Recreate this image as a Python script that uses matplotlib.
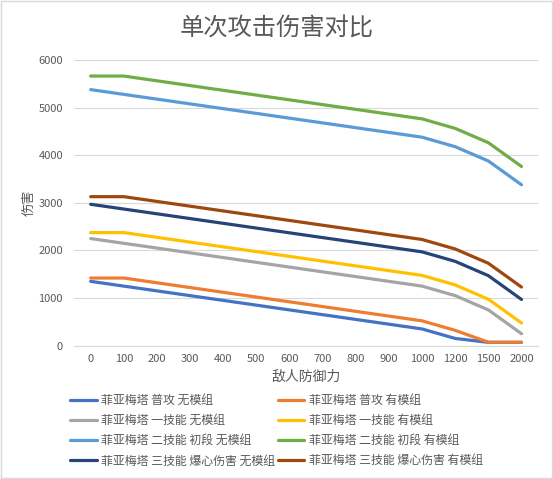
import matplotlib
matplotlib.use("Agg")
import matplotlib.pyplot as plt
from matplotlib.patches import Rectangle

plt.rcParams['font.family'] = ['Noto Sans CJK SC', 'DejaVu Sans']

defense = ['0', '100', '200', '300', '400', '500', '600', '700', '800', '900',
           '1000', '1200', '1500', '2000']

atk_nomod = [1350, 1250, 1150, 1050, 950, 850, 750, 650, 550, 450, 350, 150, 68, 68]
atk_mod = [1420, 1420, 1320, 1220, 1120, 1020, 920, 820, 720, 620, 520, 320, 71, 71]
s1_nomod = [2250, 2150, 2050, 1950, 1850, 1750, 1650, 1550, 1450, 1350, 1250, 1050, 750, 250]
s1_mod = [2375, 2375, 2275, 2175, 2075, 1975, 1875, 1775, 1675, 1575, 1475, 1275, 975, 475]
s2_nomod = [5380, 5280, 5180, 5080, 4980, 4880, 4780, 4680, 4580, 4480, 4380, 4180, 3880, 3380]
s2_mod = [5665, 5665, 5565, 5465, 5365, 5265, 5165, 5065, 4965, 4865, 4765, 4565, 4265, 3765]
s3_nomod = [2970, 2870, 2770, 2670, 2570, 2470, 2370, 2270, 2170, 2070, 1970, 1770, 1470, 970]
s3_mod = [3130, 3130, 3030, 2930, 2830, 2730, 2630, 2530, 2430, 2330, 2230, 2030, 1730, 1230]

series = [
    ('菲亚梅塔 普攻 无模组', atk_nomod, '#4472C4'),
    ('菲亚梅塔 普攻 有模组', atk_mod, '#ED7D31'),
    ('菲亚梅塔 一技能 无模组', s1_nomod, '#A5A5A5'),
    ('菲亚梅塔 一技能 有模组', s1_mod, '#FFC000'),
    ('菲亚梅塔 二技能 初段 无模组', s2_nomod, '#5B9BD5'),
    ('菲亚梅塔 二技能 初段 有模组', s2_mod, '#70AD47'),
    ('菲亚梅塔 三技能 爆心伤害 无模组', s3_nomod, '#264478'),
    ('菲亚梅塔 三技能 爆心伤害 有模组', s3_mod, '#9E480E'),
]

text_color = '#595959'
grid_color = '#D9D9D9'

fig = plt.figure(figsize=(5.53, 4.79), dpi=100)
ax = fig.add_axes([0.134, 0.2785, 0.839, 0.596])

x = list(range(len(defense)))
handles = {}
for name, vals, color in series:
    line, = ax.plot(x, vals, color=color, linewidth=2.3, label=name,
                    solid_capstyle='round', solid_joinstyle='round')
    handles[name] = line

ax.set_xlim(-0.5, len(defense) - 0.5)
ax.set_ylim(0, 6000)
ax.set_yticks(range(0, 6001, 1000))
ax.set_xticks(x)
ax.set_xticklabels(defense)
ax.tick_params(length=0, colors=text_color, labelsize=8)
ax.tick_params(axis='y', pad=8)
ax.tick_params(axis='x', pad=6)
ax.grid(axis='y', color=grid_color, linewidth=0.8)
ax.set_axisbelow(True)
for s in ['top', 'right', 'left']:
    ax.spines[s].set_visible(False)
ax.spines['bottom'].set_color(grid_color)
ax.spines['bottom'].set_linewidth(0.8)

ax.set_xlabel('敌人防御力', color=text_color, fontsize=10, labelpad=4)
ax.set_ylabel('伤害', color=text_color, fontsize=9.5, labelpad=2)

fig.suptitle('单次攻击伤害对比', color=text_color, fontsize=17.5, y=0.941, va='center')

# matplotlib fills legend columns first, so reorder to get row-wise pairs
order = [0, 2, 4, 6, 1, 3, 5, 7]
hs = [handles[series[i][0]] for i in order]
ls = [series[i][0] for i in order]
leg = fig.legend(hs, ls, loc='lower left', bbox_to_anchor=(0.108, 0.002), ncol=2,
                 frameon=False, fontsize=8.6, handlelength=2.2, handletextpad=0.35,
                 columnspacing=0.25, labelspacing=0.6)
for t in leg.get_texts():
    t.set_color(text_color)

fig.patches.append(Rectangle((0.002, 0.002), 0.996, 0.996, transform=fig.transFigure,
                             fill=False, edgecolor='#D9D9D9', linewidth=1))

fig.savefig('out.png', dpi=100)
